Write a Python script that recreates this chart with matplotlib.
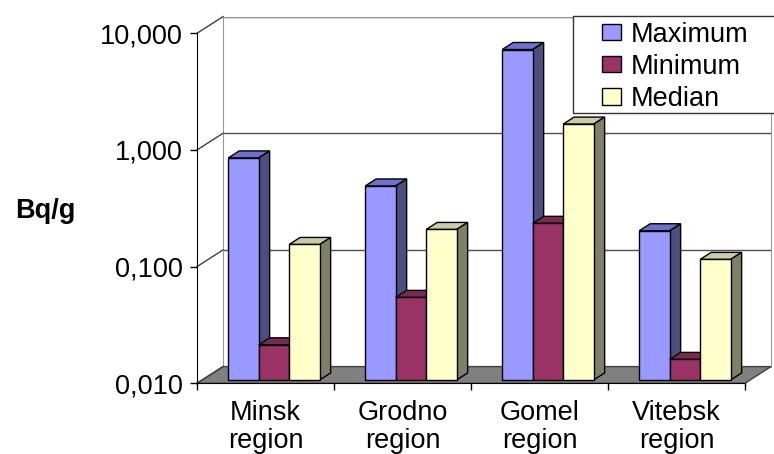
import matplotlib
matplotlib.use("Agg")
import matplotlib.pyplot as plt
from matplotlib.patches import Polygon, Rectangle, Patch
from matplotlib.lines import Line2D
from matplotlib.transforms import IdentityTransform, offset_copy

regions = ["Minsk\nregion", "Grodno\nregion", "Gomel\nregion", "Vitebsk\nregion"]
series = ["Maximum", "Minimum", "Median"]
maximum = [0.80, 0.46, 6.8, 0.19]
minimum = [0.020, 0.051, 0.22, 0.015]
median = [0.145, 0.195, 1.56, 0.108]
y_ticks = [0.01, 0.1, 1, 10]
y_tick_labels = ["0,010", "0,100", "1,000", "10,000"]

face_colors = ["#9999FF", "#993366", "#FFFFCC"]
top_colors = ["#7070CC", "#7A2952", "#CCCCA3"]
side_colors = ["#4D4D80", "#4D1A33", "#808066"]

FONT = 19.5
W, H = 774, 454
BAR_W = 0.2226      # width of one bar in category units
BAR_START = 0.19    # gap before the first bar of a group
DEPTH = (0.2, 0.62)  # bar front/back as fraction of the wall depth

plt.rcParams["font.family"] = ["Liberation Sans", "DejaVu Sans"]


def px_rect(x0, y0, x1, y1):
    return [x0 / W, 1 - y1 / H, (x1 - x0) / W, (y1 - y0) / H]


fig = plt.figure(figsize=(W / 100, H / 100), dpi=100)

# back wall, shifted up-right to fake the depth
wall = fig.add_axes(px_rect(223, 16.6, 771, 366.6))
front = fig.add_axes(px_rect(197, 33.3, 745, 383.3))

for ax in (wall, front):
    ax.set_yscale("log")
    ax.set_ylim(0.01, 10)
    ax.set_xlim(0, len(regions))
    ax.set_autoscale_on(False)

wall.set_yticks(y_ticks)
wall.set_yticklabels([])
wall.set_xticks([])
wall.minorticks_off()
wall.tick_params(length=0)
wall.grid(axis="y", color="#505050", lw=1)
for side in ("left", "right", "top"):
    wall.spines[side].set_color("#999999")
wall.spines["bottom"].set_visible(False)

front.patch.set_visible(False)
front.spines["top"].set_visible(False)
front.spines["right"].set_visible(False)
front.spines["left"].set_color("black")
front.spines["bottom"].set_color("black")
front.set_yticks(y_ticks)
front.set_yticklabels(y_tick_labels, fontsize=FONT)
front.minorticks_off()
front.tick_params(axis="y", direction="out", length=5, width=1, pad=5)
front.set_xticks(range(len(regions) + 1))
front.set_xticklabels([])
front.set_xticks([i + 0.5 for i in range(len(regions))], minor=True)
front.set_xticklabels(regions, minor=True, fontsize=FONT, linespacing=1.12)
front.tick_params(axis="x", which="major", direction="out", length=5, width=1)
front.tick_params(axis="x", which="minor", length=0, pad=12)


def to_px(ax, x, y):
    return ax.transData.transform((x, y))


fx0, fy0 = to_px(front, 0, 0.01)
wx0, wy0 = to_px(wall, 0, 0.01)
off_x, off_y = wx0 - fx0, wy0 - fy0

# floor
floor = [to_px(front, 0, 0.01), to_px(front, len(regions), 0.01),
         to_px(wall, len(regions), 0.01), to_px(wall, 0, 0.01)]
front.add_patch(Polygon(floor, closed=True, facecolor="#808080", edgecolor="#404040",
                        lw=1, transform=IdentityTransform(), clip_on=False, zorder=0.5))

# side wall grid lines
for v in y_ticks:
    p0, p1 = to_px(front, 0, v), to_px(wall, 0, v)
    front.add_line(Line2D([p0[0], p1[0]], [p0[1], p1[1]], color="#404040", lw=1,
                          transform=IdentityTransform(), clip_on=False, zorder=0.6))

d0x, d0y = DEPTH[0] * off_x, DEPTH[0] * off_y
d1x, d1y = DEPTH[1] * off_x, DEPTH[1] * off_y
face_tf = offset_copy(front.transData, fig=fig, x=d0x, y=d0y, units="dots")

for j, values in enumerate([maximum, minimum, median]):
    xs = [i + BAR_START + j * BAR_W for i in range(len(regions))]
    front.bar(xs, [v - 0.01 for v in values], width=BAR_W, bottom=0.01, align="edge",
              color=face_colors[j], edgecolor="black", lw=1, transform=face_tf,
              clip_on=False, zorder=3 + j + 0.5)
    for x, v in zip(xs, values):
        xl, yt = to_px(front, x, v)
        xr, yb = to_px(front, x + BAR_W, 0.01)
        top = [(xl + d0x, yt + d0y), (xr + d0x, yt + d0y),
               (xr + d1x, yt + d1y), (xl + d1x, yt + d1y)]
        side = [(xr + d0x, yb + d0y), (xr + d0x, yt + d0y),
                (xr + d1x, yt + d1y), (xr + d1x, yb + d1y)]
        for pts, col in ((top, top_colors[j]), (side, side_colors[j])):
            front.add_patch(Polygon(pts, closed=True, facecolor=col, edgecolor="black",
                                    lw=1, transform=IdentityTransform(),
                                    clip_on=False, zorder=3 + j))

fig.text(45 / W, 1 - 218 / H, "Bq/g", fontsize=FONT, fontweight="bold",
         ha="center", va="baseline")

# legend box runs off the right edge
fig.add_artist(Rectangle((572.7 / W, 1 - 113 / H), (800 - 572.7) / W, (113 - 16) / H,
                         transform=fig.transFigure, facecolor="white",
                         edgecolor="#333333", lw=1, zorder=4))
handles = [Patch(facecolor=c, edgecolor="black", lw=1) for c in face_colors]
fig.legend(handles, series, loc="upper left", bbox_to_anchor=(601.7 / W, 1 - 21.5 / H),
           frameon=False, borderpad=0, borderaxespad=0, handlelength=0.7,
           handleheight=0.55, handletextpad=0.36, labelspacing=0.23, fontsize=FONT)

fig.savefig("out.png", dpi=100)
